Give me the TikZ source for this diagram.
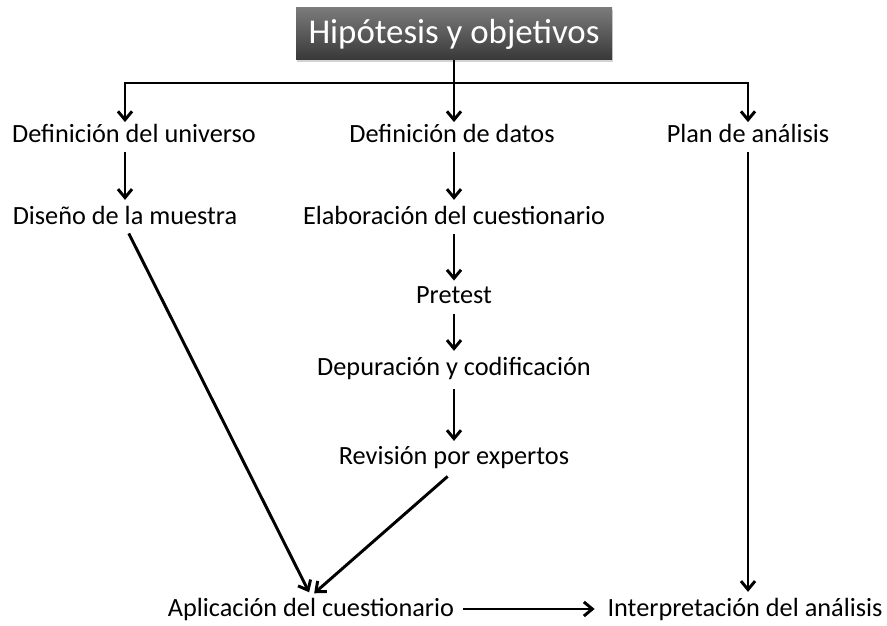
\documentclass[tikz,border=0pt]{standalone}
\usepackage{fontspec}
\setmainfont{Carlito}
\usetikzlibrary{shadows, arrows.meta}
\tikzstyle{heading} = [rectangle, minimum width=7.9cm, minimum height=1.3cm, text centered, text=white, top color=black!52, bottom color=black!78, drop shadow={opacity=0.35, shadow xshift=1pt, shadow yshift=-1.5pt}, font=\fontsize{24.8}{29}\selectfont]
\tikzstyle{stage} = [inner sep=1pt, text centered, font=\fontsize{18.7}{22}\selectfont]
\tikzstyle{line} = [line width=2.1pt]
\tikzstyle{arrow} = [line, -{Straight Barb[length=6pt,width=10pt]}]
\tikzstyle{flow} = [arrow, shorten <=6pt, shorten >=3pt]

\begin{document}
\begin{tikzpicture}[node distance=2cm]
\useasboundingbox (0,0) rectangle (22.175,-15.65);

% Nodes
\node (title) [heading] at (11.35,-0.85) {Hipótesis y objetivos};
\coordinate [below of=title, yshift=0.775cm] (bar);
\node (datos) [stage, below of=title, yshift=-0.475cm, xshift=-0.05cm] {Definición de datos};
\node (universo) [stage, left of=datos, xshift=-5.95cm] {Definición del universo};
\node (plan) [stage, right of=datos, xshift=5.4cm] {Plan de análisis};
\node (diseno) [stage, below of=universo, yshift=-0.05cm, xshift=-0.225cm] {Diseño de la muestra};
\node (elab) [stage, below of=datos, yshift=-0.05cm, xshift=0.05cm] {Elaboración del cuestionario};
\node (pretest) [stage, below of=elab] {Pretest};
\node (depur) [stage, below of=pretest, yshift=0.175cm] {Depuración y codificación};
\node (revision) [stage, below of=depur, yshift=-0.25cm] {Revisión por expertos};
\node (aplic) [stage, below of=revision, yshift=-1.775cm, xshift=-3.575cm] {Aplicación del cuestionario};
\node (interp) [stage, right of=aplic, xshift=8.85cm] {Interpretación del análisis};

% Arrows
\draw [line] (title.south) -- (bar);
\draw [arrow] (bar) -| (universo.north -| diseno);
\draw [arrow] (bar) -- (datos.north -| bar);
\draw [arrow] (bar) -| (plan.north);
\draw [flow] (universo.south -| diseno) -- (diseno.north);
\draw [flow] (datos.south -| elab) -- (elab.north);
\draw [flow] (elab) -- (pretest);
\draw [flow] (pretest) -- (depur);
\draw [flow] (depur) -- (revision);
\draw [flow] (diseno.south) -- (aplic.north);
\draw [flow] (revision.south) -- (aplic.north);
\draw [flow] (plan.south) -- (plan.south |- interp.north);
\draw [arrow, shorten <=5pt, shorten >=8pt] (aplic.east) -- (interp.west);

\end{tikzpicture}
\end{document}
